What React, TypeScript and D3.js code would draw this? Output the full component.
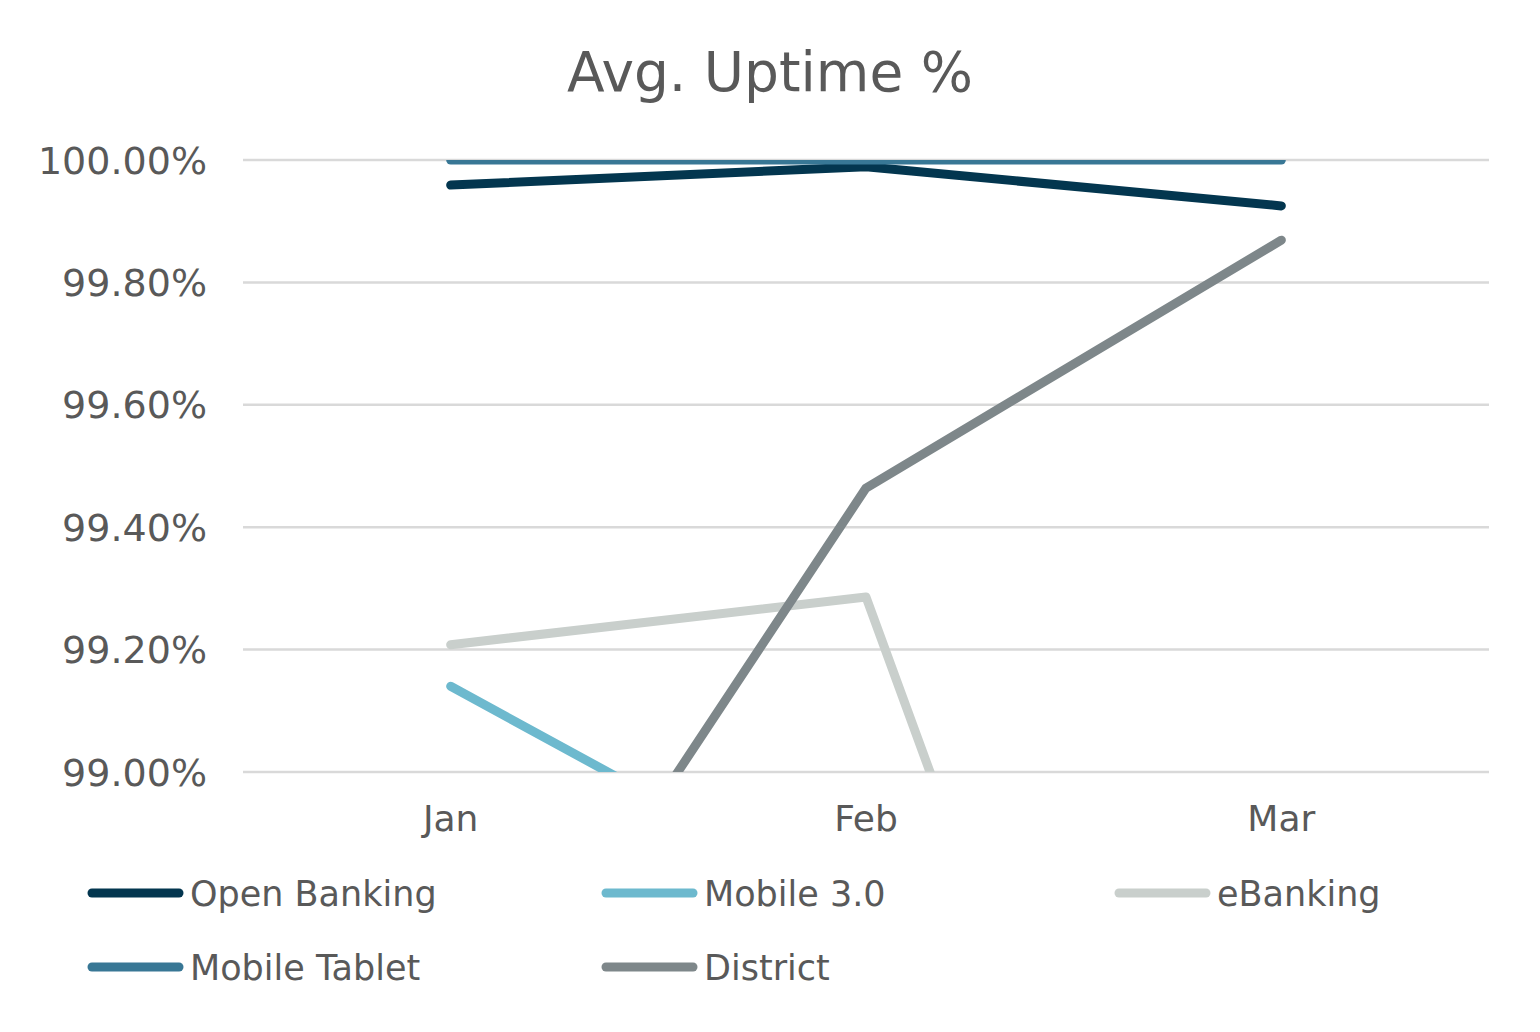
import * as d3 from 'd3'

const months = ['Jan', 'Feb', 'Mar']

const openBanking = [99.959, 99.989, 99.925]
const mobileTablet = [100.0, 100.0, 100.0]
const mobile30 = [99.14, 98.77, 98.6]
const eBanking = [99.208, 99.286, 97.43]
const district = [98.44, 99.464, 99.869]

const yTicks = [99.0, 99.2, 99.4, 99.6, 99.8, 100.0]

const series = [
  { name: 'Open Banking', values: openBanking, color: '#03364F' },
  { name: 'Mobile 3.0', values: mobile30, color: '#6DB9CE' },
  { name: 'eBanking', values: eBanking, color: '#C9CFCC' },
  { name: 'Mobile Tablet', values: mobileTablet, color: '#387795' },
  { name: 'District', values: district, color: '#7E878A' },
]

// order in which lines are painted (last on top)
const drawOrder = ['Mobile 3.0', 'eBanking', 'District', 'Open Banking', 'Mobile Tablet']

const W = 1540
const H = 1032
const FONT = '"DejaVu Sans", sans-serif'
const TEXT = '#595959'

export default function App() {
  const left = 243
  const right = 1489
  const top = 160
  const bottom = 772

  const x = d3.scaleBand<string>().domain(months).range([left, right])
  const y = d3.scaleLinear().domain([99, 100]).range([bottom, top])

  const line = d3
    .line<number>()
    .x((_, i) => x(months[i])! + x.bandwidth() / 2)
    .y((d) => y(d))

  const legendCols = [88, 602, 1115]
  const legendRows = [893, 967]

  return (
    <svg width={W} height={H} style={{ display: 'block', margin: -8 }}>
      <defs>
        <clipPath id="plot">
          <rect x={left} y={top} width={right - left} height={bottom - top} />
        </clipPath>
      </defs>
      <rect width={W} height={H} fill="#ffffff" />
      <text
        x={770}
        y={91}
        textAnchor="middle"
        fontFamily={FONT}
        fontSize={55}
        fill={TEXT}
      >
        Avg. Uptime %
      </text>

      {yTicks.map((t) => (
        <g key={t}>
          <line x1={left} x2={right} y1={y(t)} y2={y(t)} stroke="#D9D9D9" strokeWidth={2.5} />
          <text
            x={207}
            y={y(t)}
            dy="0.36em"
            textAnchor="end"
            fontFamily={FONT}
            fontSize={38}
            fill={TEXT}
          >
            {t.toFixed(2)}%
          </text>
        </g>
      ))}

      {months.map((m) => (
        <text
          key={m}
          x={x(m)! + x.bandwidth() / 2}
          y={831}
          textAnchor="middle"
          fontFamily={FONT}
          fontSize={36}
          fill={TEXT}
        >
          {m}
        </text>
      ))}

      <g clipPath="url(#plot)">
        {drawOrder.map((n) => {
          const s = series.find((d) => d.name === n)!
          return (
            <path
              key={n}
              d={line(s.values) ?? ''}
              fill="none"
              stroke={s.color}
              strokeWidth={9}
              strokeLinecap="round"
              strokeLinejoin="round"
            />
          )
        })}
      </g>

      {series.map((s, i) => {
        const lx = legendCols[i % 3]
        const ly = legendRows[Math.floor(i / 3)]
        return (
          <g key={s.name}>
            <line
              x1={lx + 4}
              x2={lx + 91}
              y1={ly}
              y2={ly}
              stroke={s.color}
              strokeWidth={9}
              strokeLinecap="round"
            />
            <text
              x={lx + 102}
              y={ly}
              dy="0.36em"
              fontFamily={FONT}
              fontSize={35}
              fill={TEXT}
            >
              {s.name}
            </text>
          </g>
        )
      })}
    </svg>
  )
}
